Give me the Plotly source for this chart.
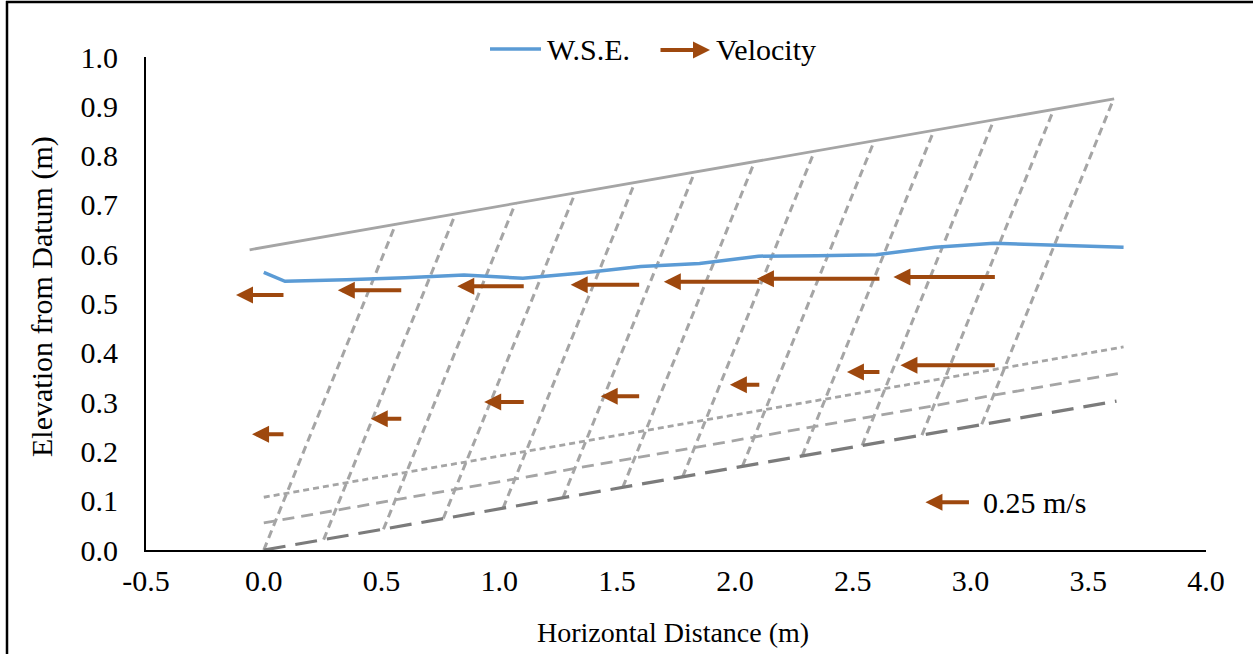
import plotly.graph_objects as go

# ---- flume geometry (m) ----
BED_X = [0.00, 3.62]
BED_Y = [0.000, 0.302]
MID_X = [0.00, 3.65]
MID_Y = [0.055, 0.360]
UPPER_X = [0.00, 3.65]
UPPER_Y = [0.107, 0.412]
TOP_X = [-0.06, 3.61]
TOP_Y = [0.609, 0.915]

# measuring sections, each running from a bed station up to the top line
SECTION_BED_X = [0.000, 0.254, 0.508, 0.762, 1.016, 1.270, 1.524, 1.778, 2.032, 2.286, 2.540, 2.794, 3.048]
SECTION_BED_Y = [0.000, 0.021, 0.042, 0.064, 0.085, 0.106, 0.127, 0.148, 0.170, 0.191, 0.212, 0.233, 0.255]
SECTION_TOP_X = [0.560, 0.814, 1.068, 1.322, 1.576, 1.830, 2.084, 2.338, 2.592, 2.846, 3.100, 3.354, 3.608]
SECTION_TOP_Y = [0.661, 0.682, 0.703, 0.724, 0.746, 0.767, 0.788, 0.809, 0.830, 0.852, 0.873, 0.894, 0.915]

# ---- water surface elevation ----
WSE_X = [0.00, 0.09, 0.35, 0.60, 0.85, 1.10, 1.35, 1.60, 1.85, 2.10, 2.35, 2.60, 2.85, 3.10, 3.65]
WSE_Y = [0.563, 0.545, 0.548, 0.552, 0.558, 0.551, 0.562, 0.575, 0.581, 0.596, 0.597, 0.599, 0.614, 0.622, 0.614]

# ---- velocity measurements (station, elevation, speed in m/s, flowing upstream/left) ----
VEL_UPPER_X = [0.09, 0.59, 1.11, 1.60, 2.11, 2.62, 3.11]
VEL_UPPER_Y = [0.517, 0.527, 0.535, 0.538, 0.544, 0.550, 0.554]
VEL_UPPER_V = [0.272, 0.361, 0.378, 0.389, 0.539, 0.689, 0.572]

VEL_LOWER_X = [0.09, 0.59, 1.11, 1.60, 2.11, 2.62, 3.11]
VEL_LOWER_Y = [0.235, 0.266, 0.300, 0.312, 0.335, 0.361, 0.375]
VEL_LOWER_V = [0.183, 0.178, 0.228, 0.222, 0.172, 0.189, 0.533]

REF_V = 0.25          # reference vector (m/s)
REF_LABEL = "0.25 m/s"
VEL_SCALE = 0.764     # metres of drawing length per 1 m/s

X_TICKS = [-0.5, 0.0, 0.5, 1.0, 1.5, 2.0, 2.5, 3.0, 3.5, 4.0]
Y_TICKS = [0.0, 0.1, 0.2, 0.3, 0.4, 0.5, 0.6, 0.7, 0.8, 0.9, 1.0]

# ---- styling ----
FONT = "Liberation Serif"
FS = 30
FS_XTITLE = 28
BLUE = "#5B9BD5"
BROWN = "#9E480E"
GREY = "#A5A5A5"
DARK_GREY = "#7B7B7B"
ARROW = dict(arrowhead=2, arrowsize=0.85, arrowwidth=4, arrowcolor=BROWN, standoff=0)

W, H = 1253, 654
ML, MT, MR, MB = 146, 57, 47, 104
PW, PH = W - ML - MR, H - MT - MB


def px(xp):
    return (xp - ML) / PW


def py(yp):
    return (MT + PH - yp) / PH


fig = go.Figure()

# sections as one broken polyline
sx, sy = [], []
for xb, yb, xt, yt in zip(SECTION_BED_X, SECTION_BED_Y, SECTION_TOP_X, SECTION_TOP_Y):
    sx += [xb, xt, None]
    sy += [yb, yt, None]
fig.add_trace(go.Scatter(x=sx, y=sy, mode="lines", showlegend=False, hoverinfo="skip",
                         line=dict(color=GREY, width=3, dash="8px,5px")))

fig.add_trace(go.Scatter(x=UPPER_X, y=UPPER_Y, mode="lines", showlegend=False, hoverinfo="skip",
                         line=dict(color=GREY, width=2.8, dash="6px,4px")))
fig.add_trace(go.Scatter(x=MID_X, y=MID_Y, mode="lines", showlegend=False, hoverinfo="skip",
                         line=dict(color=GREY, width=2.8, dash="12px,7px")))
fig.add_trace(go.Scatter(x=BED_X, y=BED_Y, mode="lines", showlegend=False, hoverinfo="skip",
                         line=dict(color=DARK_GREY, width=3.2, dash="22px,10px")))
fig.add_trace(go.Scatter(x=TOP_X, y=TOP_Y, mode="lines", showlegend=False, hoverinfo="skip",
                         line=dict(color=GREY, width=2.8)))

fig.add_trace(go.Scatter(x=WSE_X, y=WSE_Y, mode="lines", name="W.S.E.", showlegend=False,
                         line=dict(color=BLUE, width=3.5)))

annotations = []


def vel_arrow(x0, y0, v):
    return dict(x=x0 - v * VEL_SCALE, y=y0, ax=x0, ay=y0, xref="x", yref="y",
                axref="x", ayref="y", text="", showarrow=True, **ARROW)


for xs, ys, vs in [(VEL_UPPER_X, VEL_UPPER_Y, VEL_UPPER_V),
                   (VEL_LOWER_X, VEL_LOWER_Y, VEL_LOWER_V)]:
    for x0, y0, v in zip(xs, ys, vs):
        annotations.append(vel_arrow(x0, y0, v))

# reference vector
annotations.append(vel_arrow(3.00, 0.097, REF_V))
annotations.append(dict(x=3.045, y=0.097, xref="x", yref="y", text=REF_LABEL, showarrow=False,
                        xanchor="left", yanchor="middle", font=dict(family=FONT, size=FS, color="black")))

# axis titles
annotations.append(dict(x=px(42), y=py(297), xref="paper", yref="paper", text="Elevation from Datum (m)",
                        textangle=-90, showarrow=False, xanchor="center", yanchor="middle",
                        font=dict(family=FONT, size=FS, color="black")))
annotations.append(dict(x=px(673), y=py(632), xref="paper", yref="paper", text="Horizontal Distance (m)",
                        showarrow=False, xanchor="center", yanchor="middle",
                        font=dict(family=FONT, size=FS_XTITLE, color="black")))

# legend
annotations.append(dict(x=px(545), y=py(50), xref="paper", yref="paper", text="W.S.E.", showarrow=False,
                        xanchor="left", yanchor="middle", font=dict(family=FONT, size=FS, color="black")))
annotations.append(dict(x=px(710), y=py(50), xref="paper", yref="paper", ax=-51, ay=0, axref="pixel",
                        ayref="pixel", text="", showarrow=True, **ARROW))
annotations.append(dict(x=px(714), y=py(50), xref="paper", yref="paper", text="Velocity", showarrow=False,
                        xanchor="left", yanchor="middle", font=dict(family=FONT, size=FS, color="black")))

shapes = [
    dict(type="line", xref="paper", yref="paper", x0=px(490), x1=px(541), y0=py(49), y1=py(49),
         line=dict(color=BLUE, width=3.5)),
    # outer frame (left and top edges)
    dict(type="line", xref="paper", yref="paper", x0=px(7), x1=px(7), y0=py(1), y1=py(H + 5),
         line=dict(color="black", width=2.5)),
    dict(type="line", xref="paper", yref="paper", x0=px(6), x1=px(W + 5), y0=py(2), y1=py(2),
         line=dict(color="black", width=2.5)),
]

fig.update_layout(
    width=W, height=H,
    margin=dict(l=ML, r=MR, t=MT, b=MB, autoexpand=False),
    paper_bgcolor="white", plot_bgcolor="white",
    showlegend=False,
    font=dict(family=FONT, size=FS, color="black"),
    annotations=annotations,
    shapes=shapes,
    xaxis=dict(range=[-0.5, 4.0], tickvals=X_TICKS, ticktext=[f"{v:.1f}" for v in X_TICKS],
               showgrid=False, zeroline=False, showline=True, linecolor="black", linewidth=2,
               ticks="", ticklabelstandoff=3, tickfont=dict(family=FONT, size=FS, color="black")),
    yaxis=dict(range=[0.0, 1.0], tickvals=Y_TICKS, ticktext=[f"{v:.1f}" for v in Y_TICKS],
               showgrid=False, zeroline=False, showline=True, linecolor="black", linewidth=2,
               ticks="", ticklabelstandoff=20, tickfont=dict(family=FONT, size=FS, color="black")),
)

fig.write_html("out.html")
